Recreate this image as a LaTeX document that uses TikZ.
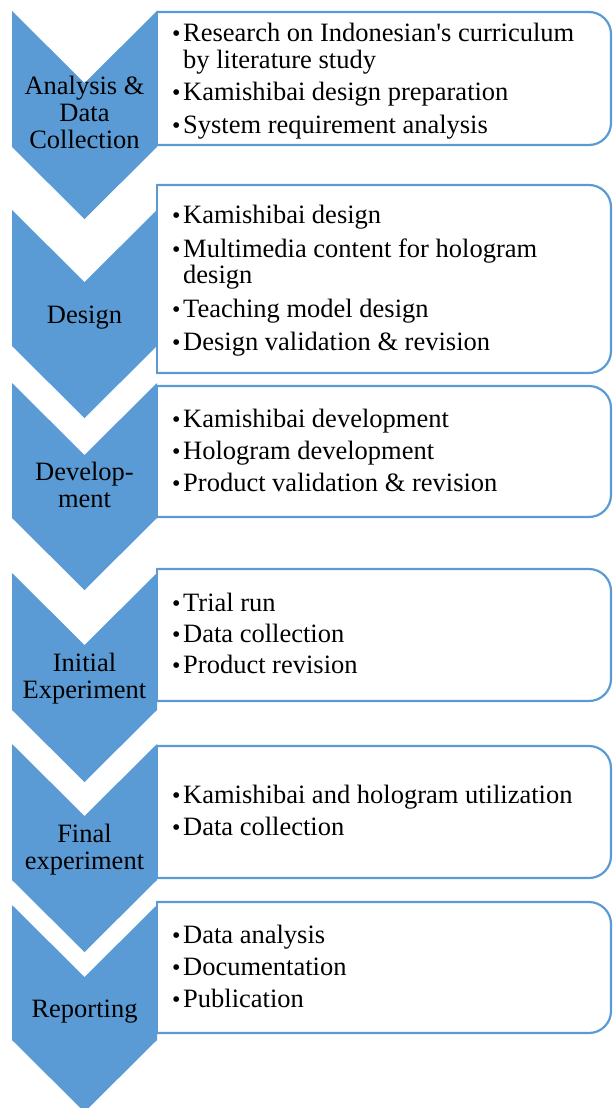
\documentclass[tikz,border=0pt]{standalone}
\usepackage{fontspec}
\setmainfont{Liberation Serif}[Ligatures=TeXOff]
\usepackage{tikz}
\usepackage{xcolor}
\definecolor{chevblue}{HTML}{5B9BD5}
\newcommand{\bul}{{\fontsize{24}{24}\selectfont\textbullet}}
\tikzset{
    chev/.style={fill=chevblue},
    boxline/.style={draw=chevblue,line width=2.2pt},
    lbl/.style={anchor=base,inner sep=0pt,font=\fontsize{26.5}{27}\selectfont},
    listtxt/.style={anchor=base west,inner sep=0pt,font=\fontsize{26.5}{26}\selectfont},
}

\begin{document}
\begin{tikzpicture}[x=1pt,y=-1pt]
		\useasboundingbox (0,0) rectangle (613,1108);
		% chevrons
		\foreach \t/\b in {11/147,210/346,383/518,573/710,744/880,905/1040} \fill[chev] (12,\t) -- (84.5,\t+72) -- (157,\t) -- (157,\b) -- (84.5,\b+72) -- (12,\b) -- cycle;
		% boxes, rounded on the right only
		\foreach \t/\b in {12/145,185/373,386/517,569/701,746/878,902/1033} {
			\draw[boxline,fill=white,rounded corners=22pt] (157,\t) -- (611,\t) -- (611,\b) -- (157,\b);
			\draw[boxline,line cap=rect] (157,\t) -- (157,\b);
		}
		% stage names
		\node[lbl] (lbl1) at (84.5,95) {\begin{tabular}[t]{@{}c@{}}Analysis \&\\Data\\Collection\end{tabular}};
		\node[lbl] (lbl2) at (84.5,323) {Design};
		\node[lbl] (lbl3) at (84.5,480) {\begin{tabular}[t]{@{}c@{}}Develop-\\ment\end{tabular}};
		\node[lbl] (lbl4) at (84.5,671) {\begin{tabular}[t]{@{}c@{}}Initial\\Experiment\end{tabular}};
		\node[lbl] (lbl5) at (84.5,842) {\begin{tabular}[t]{@{}c@{}}Final\\experiment\end{tabular}};
		\node[lbl] (lbl6) at (84.5,1017) {Reporting};
		% activities
		\node[listtxt] (txt1) at (172,42) {\begin{tabular}[t]{@{}p{11pt}@{}l@{}}
			\bul & Research on Indonesian's curriculum\\
			     & by literature study\\[6.5pt]
			\bul & Kamishibai design preparation\\[6.5pt]
			\bul & System requirement analysis
		\end{tabular}};
		\node[listtxt] (txt2) at (172,223) {\begin{tabular}[t]{@{}p{11pt}@{}l@{}}
			\bul & Kamishibai design\\[8pt]
			\bul & Multimedia content for hologram\\
			     & design\\[8pt]
			\bul & Teaching model design\\[6.5pt]
			\bul & Design validation \& revision
		\end{tabular}};
		\node[listtxt] (txt3) at (172,427) {\begin{tabular}[t]{@{}p{11pt}@{}l@{}}
			\bul & Kamishibai development\\[6pt]
			\bul & Hologram development\\[6pt]
			\bul & Product validation \& revision
		\end{tabular}};
		\node[listtxt] (txt4) at (172,611) {\begin{tabular}[t]{@{}p{11pt}@{}l@{}}
			\bul & Trial run\\[5pt]
			\bul & Data collection\\[5pt]
			\bul & Product revision
		\end{tabular}};
		\node[listtxt] (txt5) at (172,803) {\begin{tabular}[t]{@{}p{11pt}@{}l@{}}
			\bul & Kamishibai and hologram utilization\\[6pt]
			\bul & Data collection
		\end{tabular}};
		\node[listtxt] (txt6) at (172,943) {\begin{tabular}[t]{@{}p{11pt}@{}l@{}}
			\bul & Data analysis\\[6pt]
			\bul & Documentation\\[6pt]
			\bul & Publication
		\end{tabular}};
	\end{tikzpicture}
\end{document}
